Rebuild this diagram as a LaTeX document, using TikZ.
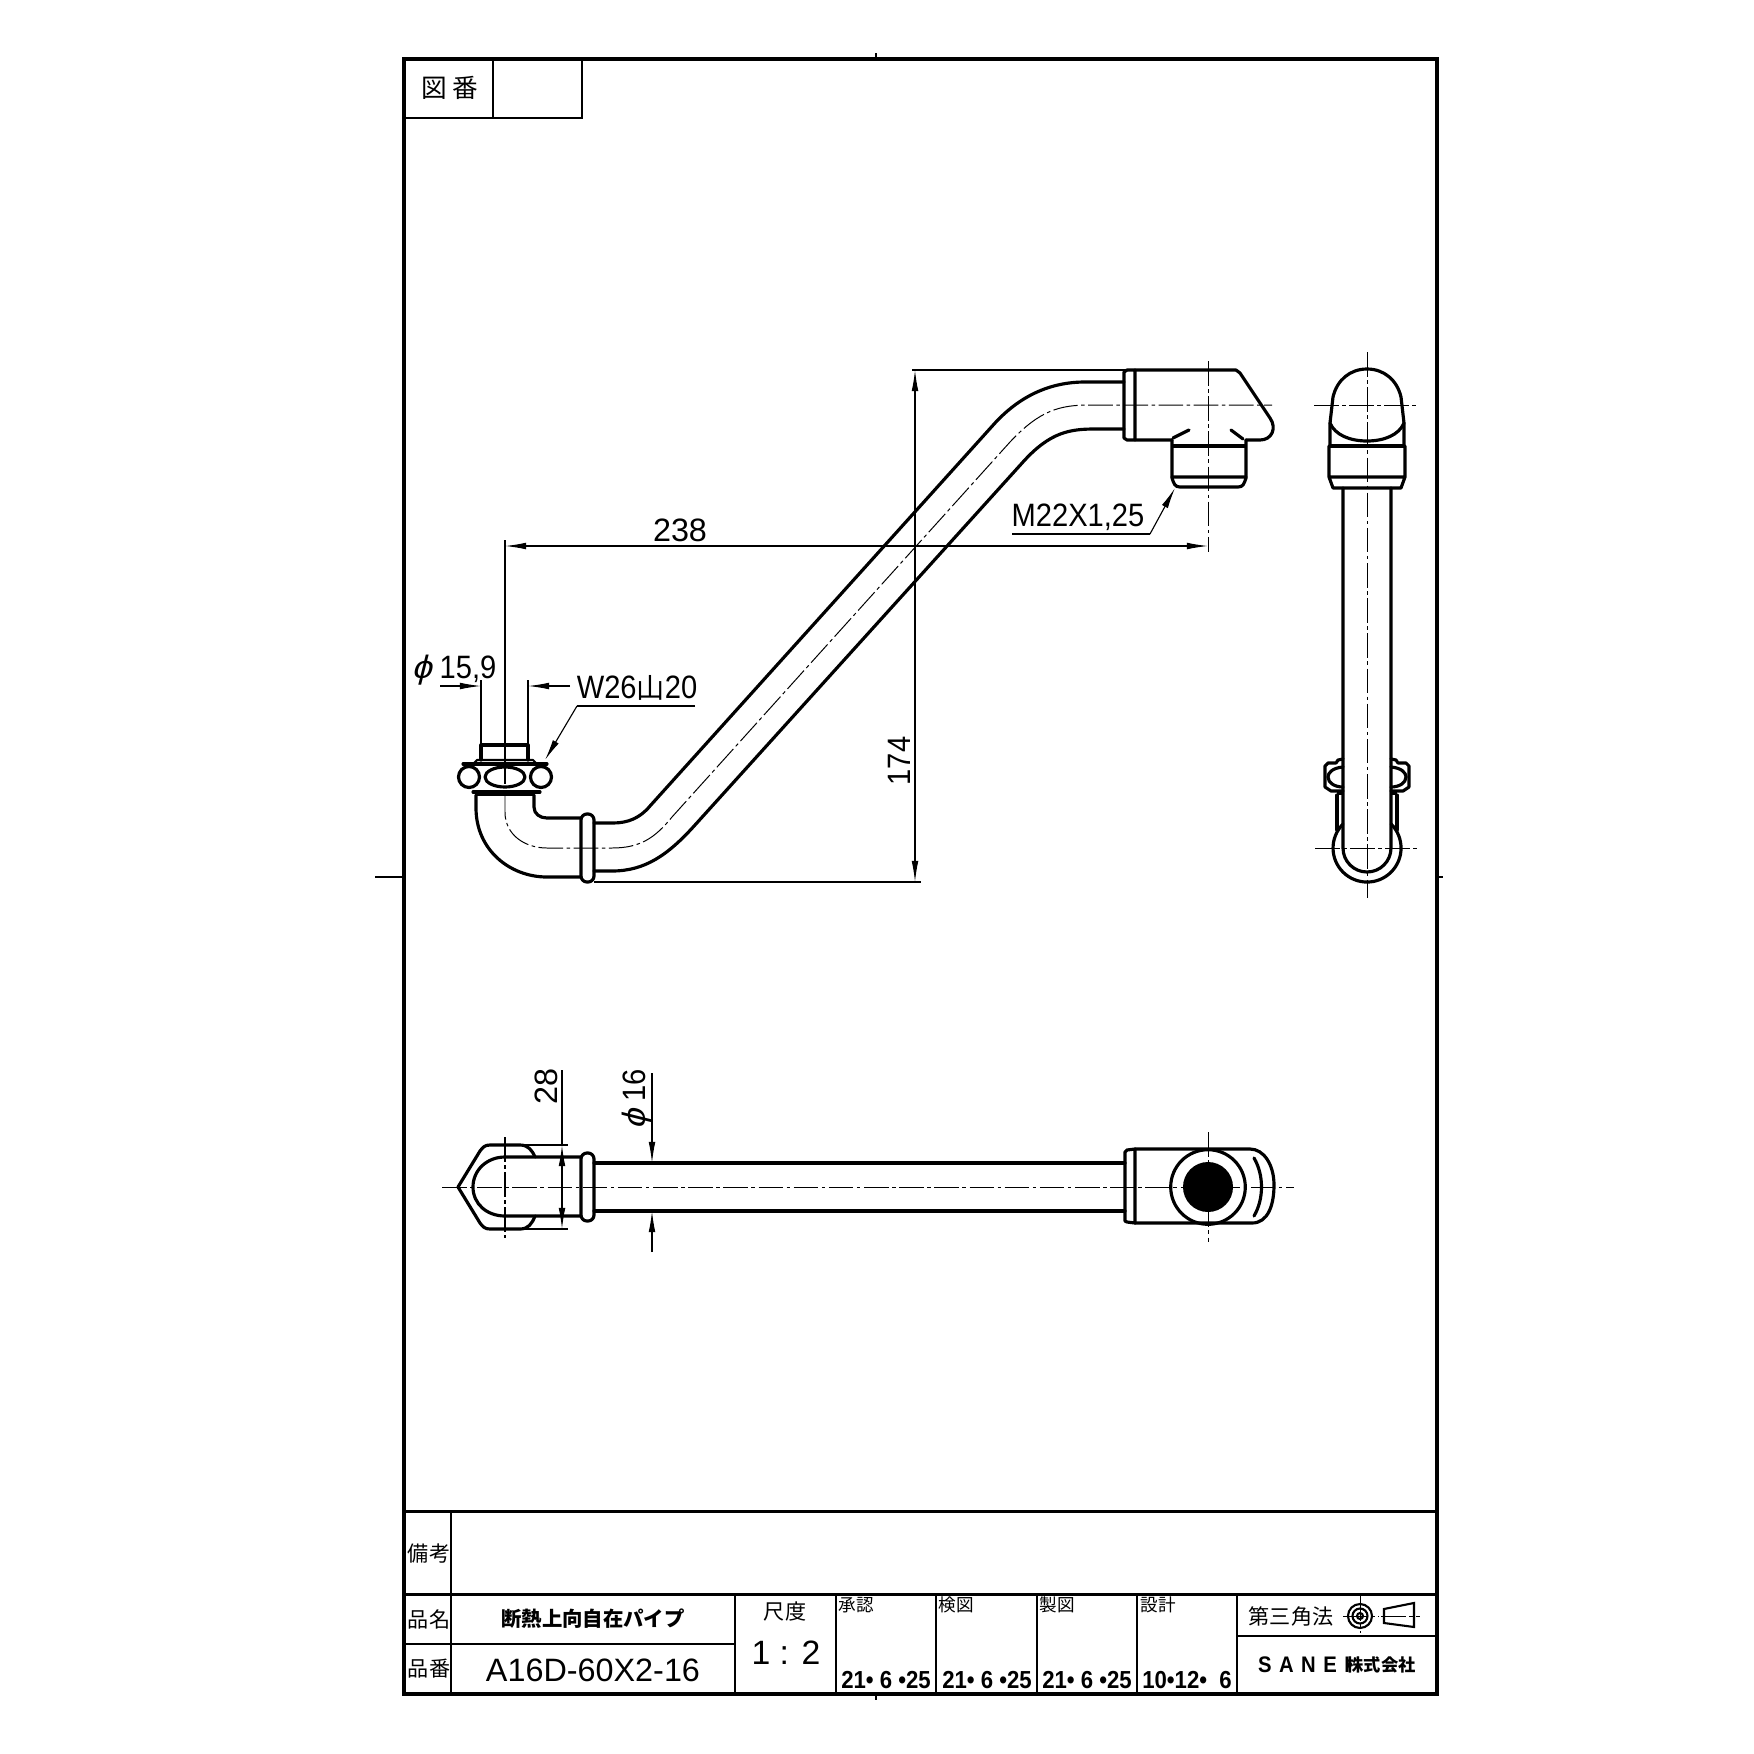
\documentclass[tikz,border=0pt]{standalone}
\usepackage{fontspec}
\setmainfont[FakeStretch=0.9]{Liberation Sans}
\newfontfamily\numfont{Liberation Sans}
\newfontfamily\phifont[FakeSlant=0.25,FakeStretch=1.1]{Liberation Sans}
\newfontfamily\cjk{Noto Sans CJK JP}
\usetikzlibrary{arrows.meta}
\tikzset{
  heavy/.style={line width=0.9pt,line join=round,line cap=round},
  bar/.style={line width=1.2pt},
  thin line/.style={line width=0.38pt},
  axis/.style={line width=0.28pt,dash pattern=on 7pt off 1pt on 1pt off 1pt},
  dimline/.style={line width=0.32pt},
  tip/.style={-{Latex[length=6pt,width=1.9pt]}},
  twotips/.style={{Latex[length=6pt,width=1.9pt]}-{Latex[length=6pt,width=1.9pt]}},
  dimtext/.style={font=\fontsize{9.2}{11}\selectfont},
  numtext/.style={font=\numfont\fontsize{9.2}{11}\selectfont},
  jplabel/.style={font=\cjk\fontsize{6}{7}\selectfont},
  jpsmall/.style={font=\cjk\fontsize{5}{6}\selectfont},
  jpbig/.style={font=\cjk\fontsize{7.3}{8}\selectfont},
  jptitle/.style={font=\cjk\bfseries\fontsize{5.8}{7}\selectfont},
  datetext/.style={font=\bfseries\fontsize{7}{8}\selectfont},
  every node/.style={inner sep=0pt}
}
\begin{document}
\begin{tikzpicture}[x=0.01cm,y=-0.01cm]
\useasboundingbox (0,0) rectangle (1754,1754);

\path (680,530) node[numtext](lenH){238} (899,761) node[dimtext,rotate=90](lenV){174} (1078,517) node[dimtext](threadTop){M22X1,25} (454,670) node[dimtext](diaEnd){{\phifont ϕ} 15,9} (637,688) node[dimtext](threadEnd){W26{\cjk\fontsize{8}{9}\selectfont 山}20} (546,1086) node[numtext,rotate=90](widthClamp){28} (637,1099) node[dimtext,rotate=90](diaPipe){{\phifont ϕ} 16};

\draw[line width=1.05pt] (404,59) rectangle (1437,1694);
\draw[thin line] (404,118) -- (582,118) -- (582,59) (493,59) -- (493,118);
\draw[thin line] (876,53) -- (876,59) (876,1694) -- (876,1700) (375,877) -- (404,877) (1437,877) -- (1443,877);
\draw[line width=0.85pt] (404,1511) -- (1437,1511) (404,1594) -- (1437,1594);
\draw[thin line] (451,1511) -- (451,1694) (404,1644) -- (735,1644) (735,1594) -- (735,1694) (836,1594) -- (836,1694) (936,1594) -- (936,1694) (1037,1594) -- (1037,1694) (1137,1594) -- (1137,1694) (1237,1594) -- (1237,1694) (1237,1636) -- (1437,1636);

\path (434,88) node[jpbig](figA){図} (465,88) node[jpbig](figB){番} (429,1553) node[jplabel](remark){備考} (429,1619) node[jplabel](nameLabel){品名} (429,1669) node[jplabel](codeLabel){品番} (593,1619) node[jptitle](partName){断熱上向自在パイプ} (593,1670) node[font=\numfont\fontsize{9.2}{11}\selectfont](partCode){A16D-60X2-16} (785,1612) node[jplabel](scaleLabel){尺度} (786,1653) node[font=\numfont\fontsize{9.6}{11}\selectfont](scaleValue){1 : 2} (856,1605) node[jpsmall](signA){承認} (956,1605) node[jpsmall](signB){検図} (1057,1605) node[jpsmall](signC){製図} (1158,1605) node[jpsmall](signD){設計} (886,1680) node[datetext](dateA){21• 6 •25} (987,1680) node[datetext](dateB){21• 6 •25} (1087,1680) node[datetext](dateC){21• 6 •25} (1187,1680) node[datetext](dateD){10•12•\ \ 6} (1291,1616) node[jplabel](method){第三角法} (1304,1665) node[font=\bfseries\fontsize{6.4}{8}\selectfont](maker){S\,\,A\,\,N\,\,E\,\,I} (1381,1665) node[font=\cjk\bfseries\fontsize{4.9}{6}\selectfont](makerJp){株式会社};

\draw[axis] (1360,1596) -- (1360,1633) (1343,1616) -- (1379,1616) (1381,1616) -- (1420,1616);
\draw[line width=0.6pt] (1360,1616) circle (12) (1360,1616) circle (7.5) (1360,1616) circle (3);
\draw[line width=0.6pt] (1384,1609) -- (1414,1603) -- (1414,1627) -- (1384,1623) -- cycle;

\draw[heavy] (476,795) -- (476,808) .. controls (476,850) and (510,877) .. (547,877) -- (581,877);
\draw[heavy] (534,795) -- (534,807) .. controls (534,814) and (540,818) .. (547,818) -- (581,818);
\draw[heavy,rounded corners=1.7pt] (581,814) rectangle (594,882);
\draw[heavy] (594,823) -- (613,823) .. controls (628,823) and (640,818) .. (650,806) -- (995,423) .. controls (1020,396) and (1050,382) .. (1085,382) -- (1124,382);
\draw[heavy] (594,871) -- (612,871) .. controls (645,871) and (668,855) .. (695,825) -- (1023,462) .. controls (1050,432) and (1070,429) .. (1095,429) -- (1124,429);
\draw[axis] (505,795) -- (505,812) .. controls (505,835) and (525,848) .. (547,848) -- (612,848) .. controls (640,848) and (655,838) .. (672,817) -- (1010,442) .. controls (1040,410) and (1060,405) .. (1090,405) -- (1272,405);
\draw[heavy] (481,760) -- (481,745) -- (528,745) -- (528,760);
\draw[bar] (483,745) -- (526,745);
\draw[heavy,line width=0.6pt] (474,763) -- (477,760) -- (533,760) -- (536,763);
\draw[heavy] (463,764) -- (547,764) (473,792) -- (540,792);
\draw[bar] (475,794) -- (535,794);
\draw[heavy,fill=white] (469,777) circle (10.5) (541,777) circle (10.5);
\draw[heavy] (505,777) ellipse (20 and 10);

\draw[heavy] (1135,370) -- (1236,370) -- (1240,373) -- (1270,418) .. controls (1277,428) and (1272,440) .. (1260,440) -- (1246,440) (1135,440) -- (1172,440);
\draw[heavy] (1135,370) -- (1127,370) -- (1124,372) -- (1124,438) -- (1127,440) -- (1135,440) -- cycle;
\draw[heavy] (1172,440) -- (1172,478) .. controls (1174,484) and (1175,487) .. (1180,487) -- (1238,487) .. controls (1243,487) and (1244,484) .. (1246,478) -- (1246,440);
\draw[bar] (1171,446) -- (1247,446);
\draw[heavy] (1172,477) -- (1246,477) (1173,438) -- (1189,430) (1243,439) -- (1231,430);
\draw[axis] (1208,361) -- (1208,552);

\draw[dimline] (912,370) -- (1135,370) (594,882) -- (921,882) (505,540) -- (505,784) (481,680) -- (481,745) (528,680) -- (528,745);
\draw[dimline,twotips] (505,546) -- (1208,546);
\draw[dimline,twotips] (915,370) -- (915,882);
\draw[dimline,tip] (440,686) -- (481,686);
\draw[dimline,tip] (570,686) -- (528,686);
\draw[dimline] (695,706) -- (577,706);
\draw[dimline,tip] (577,706) -- (545,760);
\draw[dimline] (1012,534) -- (1150,534);
\draw[dimline,tip] (1150,534) -- (1175,488);

\draw[heavy] (1330,446) -- (1330,423) -- (1333,397) .. controls (1337,380) and (1350,369) .. (1367,369) .. controls (1384,369) and (1397,380) .. (1401,397) -- (1404,423) -- (1404,446);
\draw[heavy] (1330,423) .. controls (1335,435) and (1350,441) .. (1367,441) .. controls (1384,441) and (1399,435) .. (1404,423);
\draw[bar] (1329,446) -- (1405,446);
\draw[heavy] (1329,446) -- (1329,477) -- (1333,488) -- (1401,488) -- (1405,477) -- (1405,446) (1329,477) -- (1405,477);
\draw[heavy] (1343,488) -- (1343,848) arc[start angle=180,end angle=0,radius=24] -- (1391,488);
\draw[heavy] (1343,824) arc[start angle=225,end angle=-45,radius=34];
\draw[heavy] (1343,759) -- (1338,760) -- (1336,763) -- (1328,763) -- (1325,766) -- (1325,787) -- (1331,791) -- (1343,791);
\draw[heavy] (1391,759) -- (1396,760) -- (1398,763) -- (1406,763) -- (1409,766) -- (1409,787) -- (1403,791) -- (1391,791);
\draw[heavy] (1343,767) .. controls (1332,768) and (1328,773) .. (1328,777) .. controls (1328,783) and (1335,787) .. (1343,787);
\draw[heavy] (1391,767) .. controls (1402,768) and (1406,773) .. (1406,777) .. controls (1406,783) and (1399,787) .. (1391,787);
\draw[bar] (1337,793) -- (1343,793) (1391,793) -- (1397,793);
\draw[heavy] (1337,795) -- (1337,830) (1397,795) -- (1397,830);
\draw[axis] (1367,352) -- (1367,898) (1314,405) -- (1419,405) (1315,848) -- (1418,848);

\draw[heavy] (535,1157) .. controls (532,1150) and (528,1145) .. (520,1145) -- (490,1145) .. controls (485,1145) and (483,1147) .. (480,1151) -- (458,1187) -- (480,1223) .. controls (483,1227) and (485,1229) .. (490,1229) -- (520,1229) .. controls (528,1229) and (532,1224) .. (535,1216);
\draw[heavy] (581,1157) -- (505,1157) .. controls (487,1157) and (473,1170) .. (473,1187) .. controls (473,1204) and (487,1216) .. (505,1216) -- (581,1216);
\draw[heavy,rounded corners=1.7pt] (581,1153) rectangle (594,1221);
\draw[heavy] (594,1163) -- (1125,1163) (594,1211) -- (1125,1211);
\draw[heavy] (1135,1149) -- (1250,1149) .. controls (1264,1149) and (1274,1165) .. (1274,1185) .. controls (1274,1205) and (1268,1223) .. (1252,1223) -- (1135,1223);
\draw[heavy] (1135,1149) -- (1127,1150) -- (1125,1152) -- (1125,1221) -- (1127,1222) -- (1135,1223) -- cycle;
\draw[heavy] (1208,1187) circle (37.3);
\fill (1208,1187) circle (25);
\draw[heavy] (1254,1158) .. controls (1264,1175) and (1264,1199) .. (1254,1216);
\draw[axis] (442,1187) -- (1294,1187) (1208,1132) -- (1208,1242);
\draw[axis,line width=0.6pt] (505,1137) -- (505,1238);

\draw[dimline] (525,1145) -- (568,1145) (525,1229) -- (568,1229);
\draw[dimline] (562,1070) -- (562,1145);
\draw[dimline,twotips] (562,1145) -- (562,1229);
\draw[dimline,tip] (652,1073) -- (652,1163);
\draw[dimline,tip] (652,1252) -- (652,1211);
\end{tikzpicture}
\end{document}
